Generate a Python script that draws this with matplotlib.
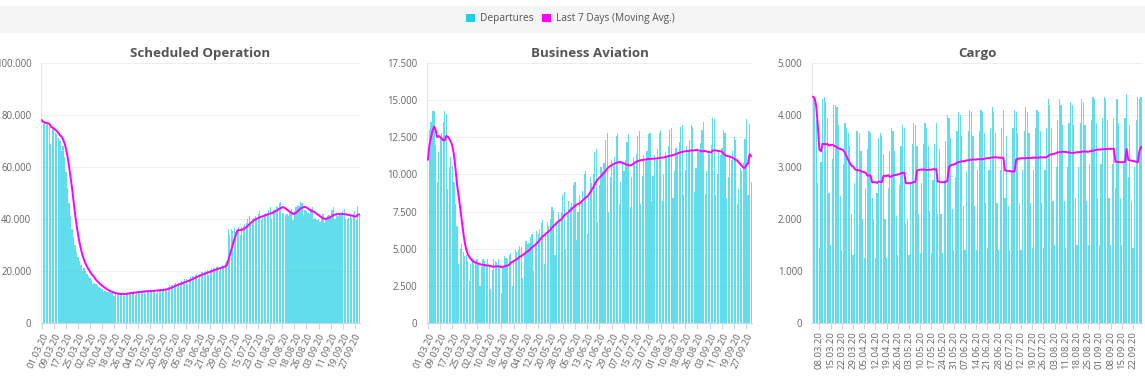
import numpy as np
import pandas as pd
import matplotlib
matplotlib.use("Agg")
import matplotlib.pyplot as plt
from matplotlib.patches import Patch, Rectangle

# daily departures, three segments (categories = days, a few days missing in the source)

#---data---#
sched_labels = ["01.03.20", "09.03.20", "17.03.20", "25.03.20", "02.04.20", "10.04.20", "18.04.20",
                "26.04.20", "04.05.20", "12.05.20", "20.05.20", "28.05.20", "05.06.20", "13.06.20",
                "21.06.20", "29.06.20", "07.07.20", "15.07.20", "23.07.20", "01.08.20", "10.08.20",
                "18.08.20", "26.08.20", "03.09.20", "11.09.20", "19.09.20", "27.09.20"]
cargo_labels = ["08.03.20", "15.03.20", "22.03.20", "29.03.20", "05.04.20", "12.04.20", "19.04.20",
                "26.04.20", "03.05.20", "10.05.20", "17.05.20", "24.05.20", "31.05.20", "07.06.20",
                "14.06.20", "21.06.20", "28.06.20", "05.07.20", "12.07.20", "19.07.20", "26.07.20",
                "03.08.20", "11.08.20", "18.08.20", "25.08.20", "01.09.20", "08.09.20", "15.09.20",
                "22.09.20"]

scheduled = [
    78000, 76500, 77000, 76000, 76500, 75500, 69000,
    75500, 74500, 73000, 72500, 71000, 70000, 66000,
    68000, 64000, 58000, 52000, 46000, 41000, 36000,
    33000, 30000, 27500, 25500, 24000, 22500, 20000,
    21000, 20000, 19000, 18000, 17500, 16500, 15000,
    15500, 15000, 14500, 14000, 13500, 13000, 12000,
    12500, 12000, 12000, 11800, 11500, 11500, 10500,
    11000, 11200, 11300, 11200, 11300, 11400, 10300,
    11500, 11800, 12000, 12000, 11600, 12200, 10800,
    12000, 12300, 12500, 12300, 12400, 12500, 11000,
    12400, 12600, 12700, 12600, 12700, 12800, 11500,
    12600, 13000, 13200, 12500, 13300, 13600, 12200,
    13800, 14500, 14700, 14500, 15000, 15500, 13800,
    15500, 15800, 16000, 16300, 16800, 17000, 15000,
    17000, 17800, 18000, 18200, 18500, 19000, 17000,
    19000, 19500, 19500, 19800, 20000, 20500, 18500,
    20500, 21000, 21000, 21200, 21500, 22000, 20000,
    21500, 22500, 22000, 23000, 24000, 36000, 34000,
    36000, 35500, 36500, 35000, 36000, 37000, 34000,
    37000, 37500, 38000, 38500, 40000, 41000, 38000,
    40000, 40500, 41000, 40500, 42000, 43000, 39500,
    41000, 42000, 42500, 42000, 43500, 44500, 40000,
    43500, 44000, 45000, 44500, 46000, 46500, 42500,
    42500, 41500, 42000, 41000, 43000, 44000, 39500,
    43000, 44500, 45500, 45000, 46500, 46000, 41500,
    43500, 43000, 42500, 42000, 44000, 44500, 40000,
    40500, 39500, 40000, 39000, 41000, 42000, 38500,
    40500, 41000, 41500, 41000, 43500, 44500, 40000,
    41500, 41000, 42000, 41500, 43000, 44000, 40000,
    40000, 40500, 41000, 40500, 42000, 43000, 39500,
    45000, 41000]

business = [
    11000, 13000, 13500, 14300, 14300, 12000, 9500,
    11500, 12500, 12800, 13500, 14300, 14100, 9000,
    10500, 11200, 10600, 9500, 8000, 6500, 4000,
    5000, 5300, 4800, 4500, 4600, 4200, 2800,
    4000, 4400, 4300, 4200, 4300, 4000, 2500,
    3800, 4300, 4200, 4000, 4300, 3900, 2300,
    3600, 4300, 4200, 4100, 4300, 3800, 2000,
    3800, 4500, 4400, 4300, 4600, 4700, 2500,
    4200, 4900, 4800, 4900, 5200, 5100, 3000,
    4700, 5500, 5300, 5400, 5800, 6000, 3500,
    5300, 6200, 6000, 6300, 6700, 6900, 4000,
    6000, 6800, 6500, 7000, 7800, 7600, 4600,
    6800, 7500, 7000, 7500, 8600, 8800, 5000,
    7300, 8200, 7800, 8100, 9300, 9500, 5600,
    7500, 8600, 8300, 8900, 10000, 10200, 6000,
    8500, 9800, 9400, 10000, 11500, 11700, 6800,
    9300, 10500, 10200, 10800, 12300, 12800, 7500,
    9800, 11000, 10600, 11200, 12600, 12800, 8000,
    9500, 10800, 10200, 11000, 12200, 12700, 7800,
    9800, 11200, 10800, 11400, 12600, 12900, 8000,
    9900, 11300, 10900, 11600, 12700, 12800, 8200,
    9900, 11300, 11000, 11700, 12800, 13000, 8200,
    10000, 11500, 11200, 11900, 13000, 13100, 8400,
    10200, 11800, 11500, 12200, 13200, 13300, 8600,
    10300, 11900, 11600, 12300, 13300, 13200, 8800,
    10400, 11800, 11500, 12100, 13000, 13500, 8700,
    10200, 11600, 11400, 12000, 13800, 13700, 8600,
    10000, 11500, 11300, 11800, 13000, 12800, 8400,
    9800, 11300, 11000, 11600, 12500, 12300, 8000,
    9000, 10400, 10200, 10800, 12400, 13700, 8600,
    13400, 9500]

cargo = [
    4350, 4300, 3900, 2700, 1450, 3100, 4300,
    4350, 4250, 3950, 2500, 1500, 3150, 4200,
    4200, 4150, 3800, 2450, 1400, 3050, 3850,
    3750, 3650, 3400, 2100, 1300, 2700, 3700,
    3700, 3650, 3300, 2000, 1250, 2600, 3350,
    3700, 3650, 2400, 2000, 1250, 2500, 3550,
    3650, 3600, 3250, 2000, 1250, 2600, 3300,
    3750, 3700, 3300, 2050, 1300, 2650, 3400,
    3800, 3750, 1900, 2000, 1300, 2700, 3450,
    3850, 3800, 3400, 2100, 1350, 2700, 3450,
    3850, 3750, 3400, 2150, 1350, 2750, 3450,
    3850, 2100, 3350, 2100, 1350, 2750, 3500,
    4000, 3950, 3550, 2200, 1400, 2800, 3700,
    4050, 4000, 3600, 2250, 1400, 2900, 3700,
    4100, 4050, 3600, 2250, 1400, 2950, 3700,
    4100, 4050, 3650, 2300, 1450, 2950, 3750,
    4150, 4050, 3650, 2300, 1400, 2950, 3750,
    4100, 2400, 3600, 2250, 1400, 2900, 3750,
    4100, 4050, 3650, 2300, 1400, 2950, 3700,
    4150, 4050, 3650, 2300, 1450, 2950, 3750,
    4100, 4050, 3700, 2300, 1450, 2950, 3750,
    4300, 4200, 3750, 2350, 1500, 3000, 3900,
    4300, 4200, 3800, 2350, 1450, 3000, 3850,
    4250, 4200, 3800, 2400, 1500, 3000, 3850,
    4300, 4250, 3800, 2350, 1500, 3050, 3900,
    4350, 4300, 3850, 2400, 1500, 3050, 3950,
    4350, 4300, 3900, 2400, 1500, 3050, 3950,
    2600, 4300, 3850, 2400, 1500, 3050, 3950,
    4400, 2800, 3800, 2350, 1450, 3000, 3900,
    4350, 4300, 4350]

#---plot configuration---#
bar_col = '#3ad5e6'
avg_col = '#ff00ff'
txt_col = '#666666'
plt.rcParams['font.family'] = ['Open Sans', 'DejaVu Sans']

W, H = 1145.0, 384.0
fig = plt.figure(figsize=(W/100, H/100), dpi=100)
fig.patch.set_facecolor('white')

# legend band
fig.patches.append(Rectangle((0.0, 1-33/H), 1.0, 27/H, transform=fig.transFigure,
                             facecolor='#f5f5f5', edgecolor='none', zorder=0))

panels = [
    ("Scheduled Operation", scheduled, sched_labels, 0, 8, 100000, 20000, 41, 360, 65),
    ("Business Aviation", business, sched_labels, 0, 8, 17500, 2500, 427, 752, 65),
    ("Cargo", cargo, cargo_labels, 4, 7, 5000, 1000, 812, 1142, 90),
]

for title, vals, labels, t0, tstep, ymax, ystep, x0, x1, rot in panels:
    ax = fig.add_axes([x0/W, (H-323)/H, (x1-x0)/W, 260/H])
    n = len(vals)
    x = np.arange(n)
    avg = pd.Series(vals).rolling(7, min_periods=1).mean()

    ax.bar(x, vals, width=0.75, color=bar_col, alpha=0.8, linewidth=0, zorder=2)
    ax.plot(x, avg, color=avg_col, linewidth=1.4, zorder=3)

    ax.set_xlim(-0.6, n - 0.4)
    ax.set_ylim(0, ymax)
    yt = np.arange(0, ymax + 1, ystep)
    ax.set_yticks(yt)
    ax.set_yticklabels([f"{int(v):,}".replace(',', '.') for v in yt], fontsize=6.9, color=txt_col)
    ax.tick_params(axis='y', length=0, pad=7)

    ticks = [t0 + tstep*k for k in range(len(labels))]
    ax.set_xticks(ticks)
    if rot == 90:
        ax.set_xticklabels(labels, rotation=90, fontsize=6.8, color=txt_col, ha='center', va='top')
    else:
        ax.set_xticklabels(labels, rotation=rot, fontsize=6.8, color=txt_col, ha='right', va='top',
                           rotation_mode='anchor')
    ax.tick_params(axis='x', length=4, width=0.8, color='#ccd6eb', pad=2)

    ax.grid(axis='y', color='#eeeeee', linewidth=0.8, zorder=0)
    ax.set_axisbelow(True)
    for s in ['top', 'right']:
        ax.spines[s].set_visible(False)
    ax.spines['left'].set_color('#e6e6e6')
    ax.spines['bottom'].set_color('#ccd6eb')

    ax.set_title(title, fontsize=9.6, fontweight='bold', color='#555555', pad=4)

handles = [Patch(facecolor='#1dcfe1', edgecolor='none'), Patch(facecolor=avg_col, edgecolor='none')]
fig.legend(handles, ["Departures", "Last 7 Days (Moving Avg.)"], loc='center',
           bbox_to_anchor=(0.498, 1-19/H), ncol=2, frameon=False, fontsize=7.3,
           handlelength=0.9, handleheight=0.9, handletextpad=0.5, columnspacing=0.8,
           labelcolor='#555555')

fig.savefig("out.png", dpi=100)
